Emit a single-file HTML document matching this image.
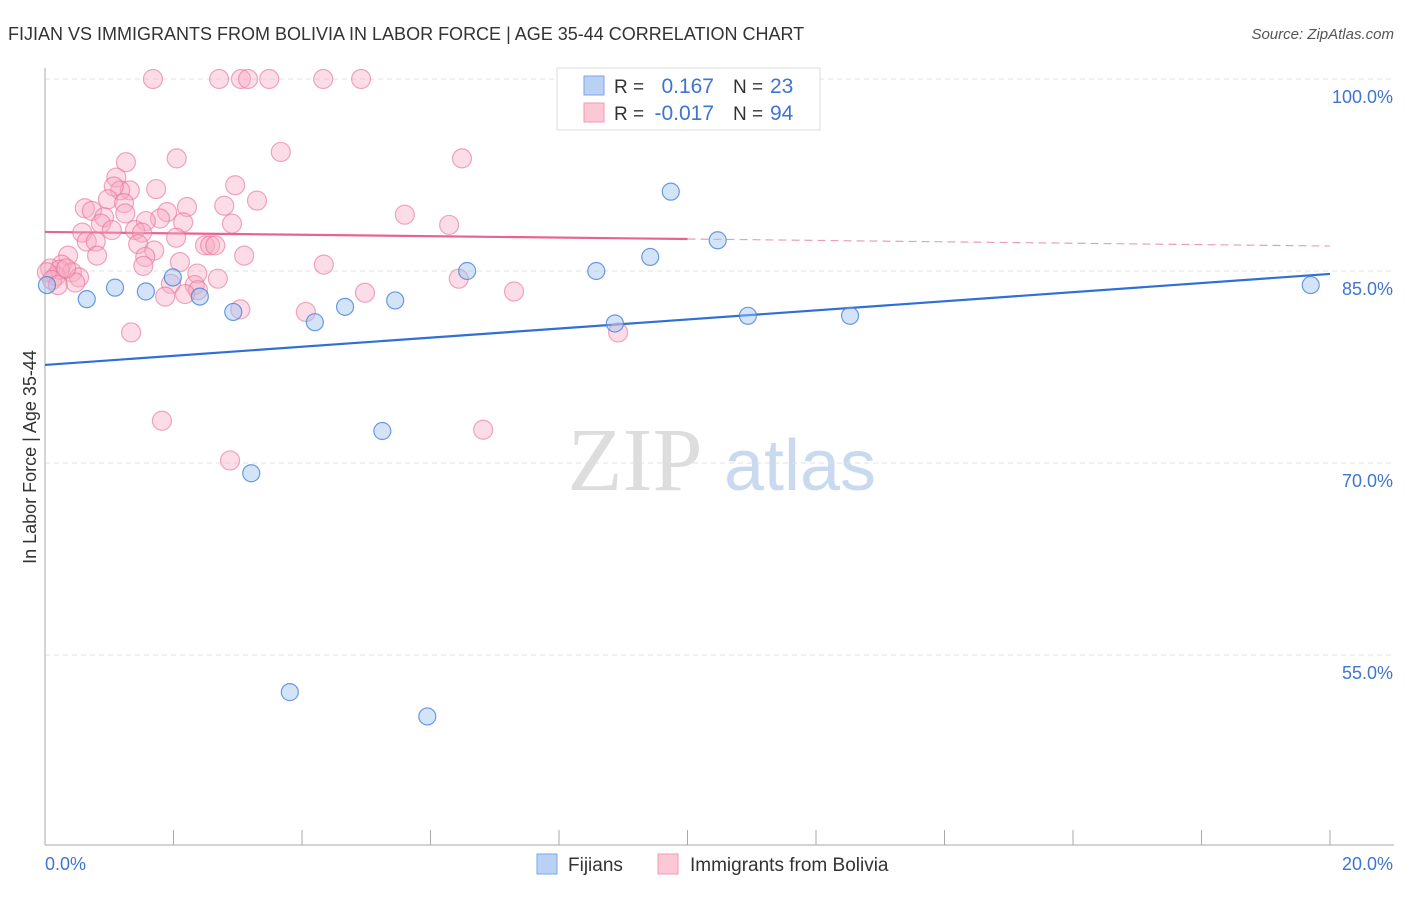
<!DOCTYPE html>
<html><head><meta charset="utf-8"><style>
body{margin:0;background:#fff;font-family:"Liberation Sans",sans-serif;}
svg text{font-family:"Liberation Sans",sans-serif;}
</style></head><body>
<svg id="chart" width="1406" height="892" viewBox="0 0 1406 892" xmlns="http://www.w3.org/2000/svg">
<text x="8" y="40" font-size="18" fill="#333">FIJIAN VS IMMIGRANTS FROM BOLIVIA IN LABOR FORCE | AGE 35-44 CORRELATION CHART</text>
<text x="1394" y="39" font-size="15" fill="#555" text-anchor="end" font-style="italic">Source: ZipAtlas.com</text>
<text x="36" y="457" font-size="18" fill="#333" text-anchor="middle" transform="rotate(-90 36 457)">In Labor Force | Age 35-44</text>
<g><text x="635" y="490" font-size="90" fill="#ddd" text-anchor="middle" font-family="Liberation Serif" style="font-family:'Liberation Serif',serif">ZIP</text><text x="800" y="490" font-size="72" fill="#c9daf0" text-anchor="middle">atlas</text></g>
<g id="grid"></g><g id="axes"></g><g id="lines"></g><g id="pts"></g>
<g>
<rect x="557" y="68" width="263" height="62" fill="#fff" stroke="#ddd"/>
<rect x="584" y="76" width="20" height="19" fill="#b9d1f5" stroke="#7aa6e6"/>
<rect x="584" y="103" width="20" height="19" fill="#fcc8d6" stroke="#f09ab4"/>
<text x="614" y="93" font-size="19" fill="#333">R =</text><text x="714" y="93" font-size="21" fill="#3f74d0" text-anchor="end">0.167</text>
<text x="733" y="93" font-size="19" fill="#333">N =</text><text x="770" y="93" font-size="21" fill="#3f74d0">23</text>
<text x="614" y="120" font-size="19" fill="#333">R =</text><text x="714" y="120" font-size="21" fill="#3f74d0" text-anchor="end">-0.017</text>
<text x="733" y="120" font-size="19" fill="#333">N =</text><text x="770" y="120" font-size="21" fill="#3f74d0">94</text>
</g>
<g>
<rect x="537" y="854" width="20" height="20" fill="#b9d1f5" stroke="#7aa6e6"/>
<text x="568" y="871" font-size="19" fill="#333">Fijians</text>
<rect x="658" y="854" width="20" height="20" fill="#fcc8d6" stroke="#f09ab4"/>
<text x="690" y="871" font-size="19" fill="#333">Immigrants from Bolivia</text>
</g>
</svg>
<script>
const yTicks=[100,85,70,55];
const yTickLabels=["100.0%","85.0%","70.0%","55.0%"];
const xTickLabels=["0.0%","20.0%"];
const fijiX=[0.03,0.65,1.09,1.57,1.99,2.41,2.93,3.21,3.81,4.20,4.67,5.25,5.45,5.95,6.57,8.58,8.87,9.42,9.74,10.47,10.94,12.53,19.70];
const fijiY=[83.9,82.8,83.7,83.4,84.5,83.0,81.8,69.2,52.1,81.0,82.2,72.5,82.7,50.2,85.0,85.0,80.9,86.1,91.2,87.4,81.5,81.5,83.9];
const bolPx=[153,219,241,248,269,323,361,126,177,281,462,116,235,257,156,130,120,114,108,124,85,92,104,101,125,167,160,187,224,146,183,232,405,449,82,112,135,142,87,96,138,176,205,210,215,154,97,68,244,180,145,143,324,62,50,72,79,75,56,60,197,218,171,195,198,165,185,240,306,365,459,514,131,618,162,483,230,47,52,66,58];
const bolPy=[79,79,79,79,79,79,79,162,159,152,158,178,185,201,189,190,190,187,199,203,208,211,217,224,213,212,218,207,206,221,222,224,215,225,232,230,230,232,241,242,244,238,245,246,246,250,256,256,256,262,257,266,264,265,268,272,277,283,276,270,274,279,284,285,290,296,294,309,312,293,279,291,333,332,421,430,460,272,280,268,285];
const bolX=bolPx.map(p=>+((p-45)/64.25).toFixed(2));
const bolY=bolPy.map(p=>+(100-(p-79)/12.8).toFixed(1));
const fijiTrend=[77.66,84.77];
const bolTrend=[88.05,86.95];
const X=v=>45+v*64.25, Y=v=>79+(100-v)*12.8;
const NS="http://www.w3.org/2000/svg";
function mk(t,a,p){const e=document.createElementNS(NS,t);for(const k in a)e.setAttribute(k,a[k]);p.appendChild(e);return e;}
const grid=document.getElementById('grid'),axes=document.getElementById('axes'),lines=document.getElementById('lines'),pts=document.getElementById('pts');
yTicks.forEach((t,i)=>{
 const l=mk('line',{x1:45,x2:1394,y1:Y(t),y2:Y(t),stroke:'#e0e0e0','stroke-dasharray':'5 4'},grid);
 
 
 const tx=mk('text',{x:1393,y:Y(t)+24,'font-size':18,fill:'#3f74d0','text-anchor':'end'},axes);
 tx.textContent=yTickLabels[i];
 
 
});
mk('line',{x1:45,x2:45,y1:68,y2:845,stroke:'#aaa'},axes);
mk('line',{x1:45,x2:1394,y1:845,y2:845,stroke:'#aaa'},axes);
for(let i=0;i<=10;i++){const x=X(i*2);mk('line',{x1:x,x2:x,y1:830,y2:845,stroke:'#aaa'},axes);}
[[0,'start',45],[1,'end',1393]].forEach(([i,a,x])=>{const t=mk('text',{x:x,y:870,'font-size':18,fill:'#3f74d0','text-anchor':a},axes);t.textContent=xTickLabels[i];
 
 });
const fl=mk('line',{x1:X(0),y1:Y(fijiTrend[0]),x2:X(20),y2:Y(fijiTrend[1]),stroke:'#2f6fd6','stroke-width':2.2},lines);


const bm=bolTrend[0]+(bolTrend[1]-bolTrend[0])*0.5;
const bl=mk('line',{x1:X(0),y1:Y(bolTrend[0]),x2:X(10),y2:Y(bm),stroke:'#e8648f','stroke-width':2.2},lines);


const bd=mk('line',{x1:X(10),y1:Y(bm),x2:X(20),y2:Y(bolTrend[1]),stroke:'#e8a0b8','stroke-width':1.2,'stroke-dasharray':'8 5'},lines);


bolX.forEach((x,i)=>{const c=mk('circle',{cx:X(x),cy:Y(bolY[i]),r:9.5,fill:'rgba(247,170,195,0.4)',stroke:'rgba(232,110,150,0.6)','stroke-width':1.2},pts);
 
 });
fijiX.forEach((x,i)=>{const c=mk('circle',{cx:X(x),cy:Y(fijiY[i]),r:8.5,fill:'rgba(160,195,240,0.45)',stroke:'rgba(70,130,220,0.8)','stroke-width':1.2},pts);
 
 });
</script>
</body></html>
